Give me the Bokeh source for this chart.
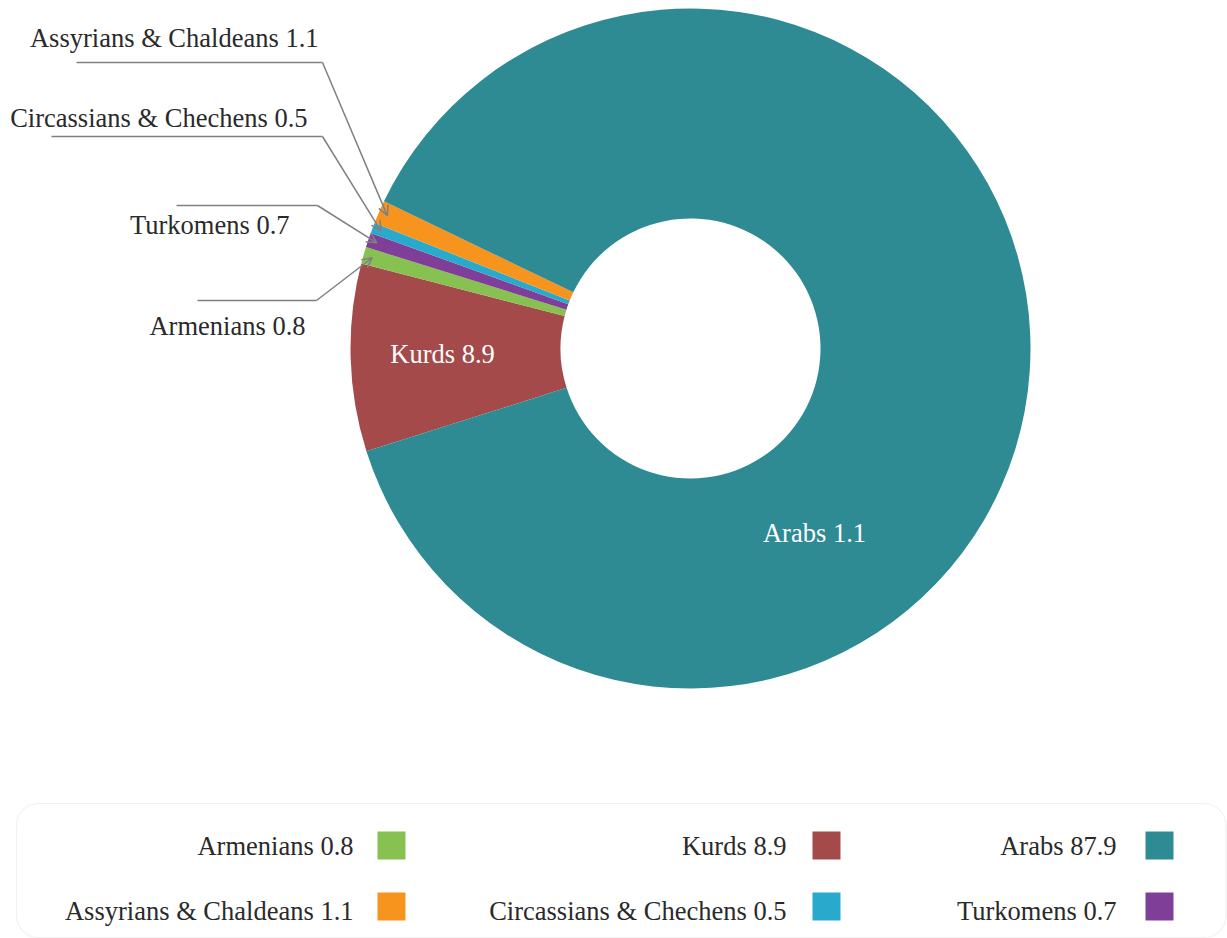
import math
from bokeh.plotting import figure
from bokeh.models import Range1d, ColumnDataSource, Arrow, OpenHead, BoxAnnotation
from bokeh.core.properties import value
from bokeh.embed import file_html
from bokeh.resources import INLINE

# ---------------- data (legend order) ----------------
groups = ["Armenians", "Kurds", "Arabs", "Assyrians & Chaldeans",
          "Circassians & Chechens", "Turkomens"]
shares = [0.8, 8.9, 87.9, 1.1, 0.5, 0.7]
colors = ["#86C152", "#A54A4A", "#2E8A93", "#F7941E", "#29A9CB", "#7F3F98"]

# order of the slices round the ring (clockwise, starting lower-left)
ring_order = ["Kurds", "Armenians", "Turkomens", "Circassians & Chechens",
              "Assyrians & Chaldeans", "Arabs"]
# texts printed on the slices themselves (as in the original)
inner_labels = {"Kurds": "Kurds 8.9", "Arabs": "Arabs 1.1"}
# slices labelled outside with leader lines
outer_labelled = ["Assyrians & Chaldeans", "Circassians & Chechens", "Turkomens", "Armenians"]

# ---------------- layout ----------------
W, H = 1227, 938
def Y(sy):
    return H - sy

CX, CY = 690, Y(348)
R_OUT, R_IN = 340, 130
START_DEG = 197.6
FONT = value("Liberation Serif")
FS = value("26.5px")
TXT = "#2a2a2a"

inner_pos = {"Kurds": (442, 353), "Arabs": (814, 532)}
outer_layout = {
    "Assyrians & Chaldeans": dict(tx=318, ty=37, x0=76, ex=322, ey=62),
    "Circassians & Chechens": dict(tx=307, ty=117, x0=51, ex=322, ey=136),
    "Turkomens": dict(tx=289, ty=224, x0=176, ex=317, ey=205),
    "Armenians": dict(tx=305, ty=325, x0=197, ex=316, ey=300),
}
leg_text_x = [353, 786, 1116]
leg_sq_x = [391, 826, 1159]
leg_text_y = [845, 910]
leg_sq_y = [845, 906]
SQ = 28

p = figure(width=W, height=H, x_range=Range1d(0, W), y_range=Range1d(0, H),
           output_backend="svg", toolbar_location=None,
           x_axis_type=None, y_axis_type=None, min_border=0)
p.grid.visible = False
p.outline_line_color = None
p.background_fill_color = "white"

share_of = dict(zip(groups, shares))
color_of = dict(zip(groups, colors))
total = sum(shares)

# ---------------- ring ----------------
starts, ends, cols, mids = [], [], [], {}
end = START_DEG
for name in ring_order:
    span = share_of[name] / total * 360.0
    st = end - span
    starts.append(math.radians(st))
    ends.append(math.radians(end))
    cols.append(color_of[name])
    mids[name] = math.radians((st + end) / 2)
    end = st

ring = ColumnDataSource(dict(x=[CX] * len(ring_order), y=[CY] * len(ring_order),
                             start=starts, end=ends, color=cols))
p.annular_wedge(x="x", y="y", inner_radius=R_IN, outer_radius=R_OUT,
                start_angle="start", end_angle="end", fill_color="color",
                line_color=None, source=ring)

# inner labels
names_in = list(inner_labels)
p.text(x=[inner_pos[n][0] for n in names_in], y=[Y(inner_pos[n][1]) for n in names_in],
       text=[inner_labels[n] for n in names_in], text_color="white",
       text_font=FONT, text_font_size=FS, text_align="center", text_baseline="middle")

# outer labels + leader lines
for name in outer_labelled:
    L = outer_layout[name]
    a = mids[name]
    tipx = CX + 331 * math.cos(a)
    tipy = CY + 331 * math.sin(a)
    p.line(x=[L["x0"], L["ex"]], y=[Y(L["ey"]), Y(L["ey"])], line_color="#808080", line_width=1.5)
    p.add_layout(Arrow(x_start=L["ex"], y_start=Y(L["ey"]), x_end=tipx, y_end=tipy,
                       line_color="#808080", line_width=1.5,
                       end=OpenHead(size=10, line_color="#808080", line_width=1.5)))
    p.text(x=[L["tx"]], y=[Y(L["ty"])], text=[f"{name} {share_of[name]}"],
           text_color=TXT, text_font=FONT, text_font_size=FS,
           text_align="right", text_baseline="middle")

# ---------------- legend ----------------
p.add_layout(BoxAnnotation(left=16, right=1225.5, bottom=Y(937), top=Y(803),
                           fill_color="white", fill_alpha=0, line_color="#D0D0D0",
                           line_width=1.2, border_radius=22))
lx, ly, sx, sy, lt = [], [], [], [], []
for i, name in enumerate(groups):
    r, c = divmod(i, 3)
    lx.append(leg_text_x[c]); ly.append(Y(leg_text_y[r]))
    sx.append(leg_sq_x[c]); sy.append(Y(leg_sq_y[r]))
    lt.append(f"{name} {share_of[name]}")
p.rect(x=sx, y=sy, width=SQ, height=SQ, fill_color=colors, line_color=None)
p.text(x=lx, y=ly, text=lt, text_color=TXT, text_font=FONT, text_font_size=FS,
       text_align="right", text_baseline="middle")

open("out.html", "w").write(file_html(p, INLINE))
